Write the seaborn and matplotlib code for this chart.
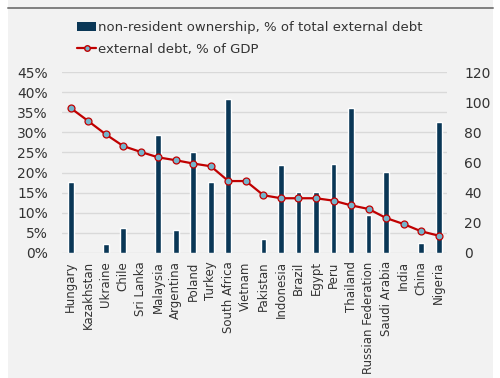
import numpy as np
import pandas as pd
import matplotlib
matplotlib.use("Agg")
import matplotlib.pyplot as plt
import seaborn as sns
from matplotlib.patches import Patch, Rectangle
from matplotlib.lines import Line2D

countries = ["Hungary", "Kazakhstan", "Ukraine", "Chile", "Sri Lanka", "Malaysia",
             "Argentina", "Poland", "Turkey", "South Africa", "Vietnam", "Pakistan",
             "Indonesia", "Brazil", "Egypt", "Peru", "Thailand", "Russian Federation",
             "Saudi Arabia", "India", "China", "Nigeria"]
nonres_pct = [17.7, np.nan, 2.2, 6.2, np.nan, 29.3, 5.8, 25.0, 17.7, 38.4, np.nan, 3.6,
              21.9, 15.1, 15.2, 22.1, 36.0, 9.4, 20.1, np.nan, 2.4, 32.6]
extdebt_gdp = [96.1, 87.5, 78.7, 70.9, 67.0, 63.4, 61.5, 59.3, 57.5, 47.7, 47.7, 38.3,
               36.3, 36.3, 36.3, 34.7, 31.6, 29.2, 23.2, 19.2, 14.4, 11.5]
left_ticks = [0, 5, 10, 15, 20, 25, 30, 35, 40, 45]
right_ticks = [0, 20, 40, 60, 80, 100, 120]
bar_label = "non-resident ownership, % of total external debt"
line_label = "external debt, % of GDP"

df = pd.DataFrame({"country": countries, "nonres": nonres_pct, "debt": extdebt_gdp})

sns.set_theme(style="white")
plt.rcParams["font.family"] = ["DejaVu Sans"]

BG = "#f2f2f2"
BAR = "#0a3756"
RED = "#c00000"
MFACE = "#74b4cb"
TXT = "#333333"

fig = plt.figure(figsize=(5.0, 3.78), dpi=100, facecolor="white")
fig.patches.append(Rectangle((8/500, 0), 485/500, 1, transform=fig.transFigure,
                             facecolor=BG, edgecolor="none", zorder=-10))
fig.add_artist(Line2D([8/500, 493/500], [1 - 8/378, 1 - 8/378], transform=fig.transFigure,
                      color="#7f7f7f", lw=1.4))

ax = fig.add_axes([61.9/500, 1 - 253/378, 385.5/500, 181/378])
ax.set_facecolor("none")
sns.barplot(data=df, x="country", y="nonres", color=BAR, width=0.33, ax=ax,
            saturation=1, errorbar=None)
ax.set_ylim(0, 45)
ax.set_xlim(-0.5, len(countries) - 0.5)
ax.set_yticks(left_ticks)
ax.set_yticklabels([f"{t}%" for t in left_ticks], fontsize=10, color=TXT)
ax.yaxis.grid(True, color="#d9d9d9", lw=1)
ax.set_axisbelow(True)
for s in ax.spines.values():
    s.set_visible(False)
ax.tick_params(axis="both", length=0)
ax.tick_params(axis="y", pad=10)
ax.tick_params(axis="x", pad=6)
ax.set_xticks(range(len(countries)))
ax.set_xticklabels(countries, rotation=90, fontsize=8.5, color=TXT)
ax.set_xlabel("")
ax.set_ylabel("")

ax2 = ax.twinx()
sns.lineplot(data=df, x="country", y="debt", color=RED, lw=1.6, marker="o",
             markersize=5, markerfacecolor=MFACE, markeredgecolor=RED,
             markeredgewidth=0.9, sort=False, ax=ax2)
ax2.set_ylim(0, 120)
ax2.set_xlim(-0.5, len(countries) - 0.5)
ax2.set_yticks(right_ticks)
ax2.set_yticklabels([str(t) for t in right_ticks], fontsize=10, color=TXT)
ax2.tick_params(axis="y", length=0, pad=12)
for s in ax2.spines.values():
    s.set_visible(False)
ax2.set_ylabel("")
ax2.set_xlabel("")

handles = [Patch(facecolor=BAR, edgecolor="none"),
           Line2D([], [], color=RED, lw=1.6, marker="o", markersize=4,
                  markerfacecolor=MFACE, markeredgecolor=RED)]
fig.legend(handles, [bar_label, line_label], loc="upper left",
           bbox_to_anchor=(72/500, 1 - 16/378), frameon=False, fontsize=9.5,
           handlelength=1.45, handletextpad=0.15, labelspacing=0.65,
           labelcolor=TXT, borderaxespad=0)

fig.savefig("out.png", dpi=100, facecolor="white")
